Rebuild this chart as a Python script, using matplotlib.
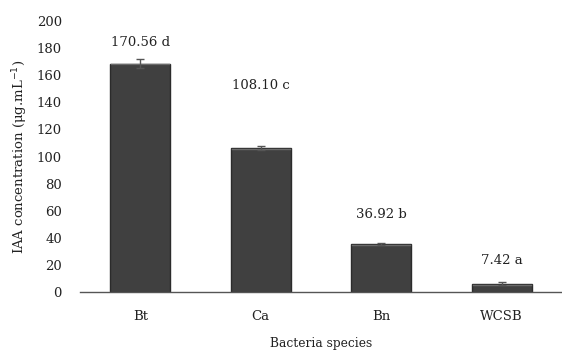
import matplotlib
matplotlib.use("Agg")
import matplotlib.pyplot as plt

categories = ["Bt", "Ca", "Bn", "WCSB"]
means = [168.5, 106.0, 35.5, 6.0]
errors = [3.5, 1.5, 0.6, 1.2]
value_labels = ["170.56 d", "108.10 c", "36.92 b", "7.42 a"]
label_offsets = [21, 63, 29, 23]  # pixels above bar top (layout)
yticks = [0, 20, 40, 60, 80, 100, 120, 140, 160, 180, 200]

plt.rcParams['font.family'] = ['DejaVu Serif']

fig = plt.figure(figsize=(5.62, 3.52), dpi=100)
ax = fig.add_axes([80/562, (352-292)/352, 1 - 80/562, (292-21)/352])

x = list(range(len(categories)))
ax.bar(x, means, width=0.5, color='#404040', edgecolor='#2b2b2b', linewidth=1.0, zorder=2)
# bevel highlight
for xi, m in zip(x, means):
    ax.plot([xi - 0.24, xi + 0.24], [m - 0.6, m - 0.6], color='#6a6a6a', lw=1.0, zorder=3)
ax.errorbar(x, means, yerr=errors, fmt='none', ecolor='#555555', elinewidth=1.0, capsize=3, zorder=4)

for xi, m, lab, off in zip(x, means, value_labels, label_offsets):
    ax.annotate(lab, (xi, m), xytext=(0, off * 0.72), textcoords='offset points',
                ha='center', va='center', fontsize=9.5, color='#222222')

ax.set_xlim(-0.5, len(categories) - 0.5)
ax.set_ylim(0, 200)
ax.set_yticks(yticks)
ax.set_xticks(x)
ax.set_xticklabels(categories)
ax.tick_params(axis='y', length=0, pad=13, labelsize=9.5, colors='#222222')
ax.tick_params(axis='x', length=0, pad=13, labelsize=9.5, colors='#222222')
for s in ['top', 'right', 'left']:
    ax.spines[s].set_visible(False)
ax.spines['bottom'].set_color('#555555')
ax.spines['bottom'].set_linewidth(1.0)

ax.set_ylabel(r"IAA concentration (μg.mL$^{-1}$)", fontsize=9.5, color='#222222', labelpad=5)
ax.set_xlabel("Bacteria species", fontsize=8.8, color='#222222', labelpad=10)

fig.savefig("out.png", dpi=100)
